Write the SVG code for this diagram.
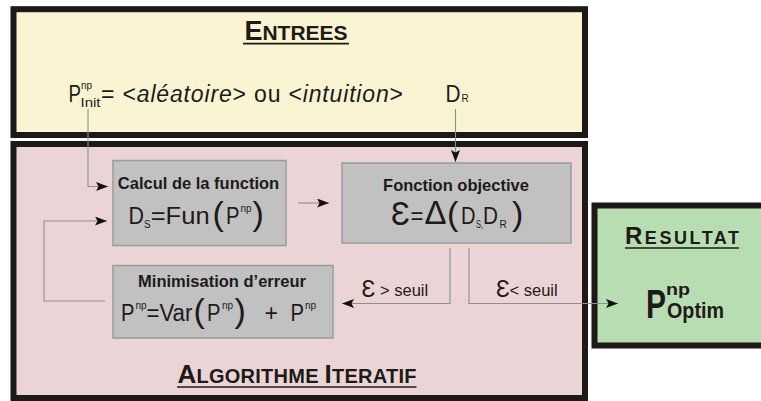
<svg xmlns="http://www.w3.org/2000/svg" width="761" height="401" viewBox="0 0 761 401">
<style>
text{font-family:"Liberation Sans",Arial,"DejaVu Sans",sans-serif;fill:#1e1a18}
.frame{stroke:#1c1917;stroke-width:6}
.gbox{fill:#c1c1c1;stroke:#9b9b9b;stroke-width:1.5}
.b{font-weight:bold;font-size:16.5px}
.t{font-weight:bold}
.f{font-size:23px}
.s{font-size:10px}
.p{font-size:34px}
.lab{font-size:16.5px}
.ul{stroke:#1e1a18;stroke-width:1.6}
.con{fill:none;stroke:#8e8e8e;stroke-width:1.1}
</style>
<defs>
<marker id="ah" markerUnits="userSpaceOnUse" markerWidth="13" markerHeight="10" refX="12" refY="4.5" orient="auto">
<path d="M0,0 L12,4.5 L0,9 L2.5,4.5 z" fill="#111"/>
</marker>
</defs>
<rect width="761" height="401" fill="#ffffff"/>

<g id="entrees">
<rect class="frame" x="13.5" y="9.2" width="571.5" height="125.8" fill="#fbf4d2"/>
<text x="296" y="40" text-anchor="middle" class="t"><tspan font-size="27">E</tspan><tspan font-size="21">NTREES</tspan></text>
<line class="ul" x1="243" y1="43.6" x2="349" y2="43.6"/>
<text x="68.5" y="102" class="f" textLength="12.5" lengthAdjust="spacingAndGlyphs">P</text>
<text x="81" y="89" class="s">np</text>
<text x="80.5" y="107" font-size="13" textLength="20" lengthAdjust="spacingAndGlyphs">Init</text>
<text x="101" y="102" class="f" textLength="302" lengthAdjust="spacing">= &lt;<tspan font-style="italic">aléatoire</tspan>&gt; ou &lt;<tspan font-style="italic">intuition</tspan>&gt;</text>
<text x="445.5" y="102" class="f" textLength="15" lengthAdjust="spacingAndGlyphs">D</text>
<text x="461.5" y="102" class="s">R</text>
</g>

<g id="algorithme">
<rect class="frame" x="13.5" y="144" width="571.5" height="254" fill="#ebd4d6"/>
<text x="297" y="383.3" text-anchor="middle" class="t" textLength="239" lengthAdjust="spacing"><tspan font-size="26">A</tspan><tspan font-size="20">LGORITHME </tspan><tspan font-size="26">I</tspan><tspan font-size="20">TERATIF</tspan></text>
<line class="ul" x1="177" y1="387" x2="416.5" y2="387"/>
</g>

<g id="resultat">
<rect class="frame" x="594.5" y="205.5" width="170" height="140" fill="#b8ddb2"/>
<text x="625" y="244" class="t" textLength="114" lengthAdjust="spacing"><tspan font-size="24">R</tspan><tspan font-size="18">ESULTAT</tspan></text>
<line class="ul" x1="625" y1="248" x2="739" y2="248"/>
<text x="646" y="318" class="t" font-size="40" textLength="20" lengthAdjust="spacingAndGlyphs">P</text>
<text x="666" y="295" class="t" font-size="17" textLength="24" lengthAdjust="spacingAndGlyphs">np</text>
<text x="667" y="318" class="t" font-size="22" textLength="57" lengthAdjust="spacingAndGlyphs">Optim</text>
</g>

<g id="calcul">
<rect class="gbox" x="113" y="160.5" width="173" height="85"/>
<text x="198.5" y="189" text-anchor="middle" class="b">Calcul de la function</text>
<text x="128.5" y="224" class="f" textLength="15.5" lengthAdjust="spacingAndGlyphs">D</text>
<text x="144" y="227.5" class="s" textLength="6.5" lengthAdjust="spacingAndGlyphs">S</text>
<text x="150.7" y="224" class="f" textLength="59" lengthAdjust="spacingAndGlyphs">=Fun</text>
<text x="212.5" y="224.5" class="p">(</text>
<text x="226" y="224" class="f" textLength="13.5" lengthAdjust="spacingAndGlyphs">P</text>
<text x="240.5" y="212" class="s">np</text>
<text x="252.5" y="224.5" class="p">)</text>
</g>

<g id="fonction">
<rect class="gbox" x="342" y="163" width="229" height="80"/>
<text x="456" y="190.7" text-anchor="middle" class="b">Fonction objective</text>
<text x="391" y="225" class="p" textLength="19" lengthAdjust="spacingAndGlyphs">Ɛ</text>
<text x="410.5" y="224" class="f" textLength="13" lengthAdjust="spacingAndGlyphs">=</text>
<text x="424.5" y="224" class="p" textLength="22" lengthAdjust="spacingAndGlyphs">Δ</text>
<text x="447" y="224.5" class="p">(</text>
<text x="461" y="224" class="f" textLength="14.5" lengthAdjust="spacingAndGlyphs">D</text>
<text x="476" y="227.5" class="s" textLength="7" lengthAdjust="spacingAndGlyphs">S,</text>
<text x="483" y="224" class="f" textLength="15" lengthAdjust="spacingAndGlyphs">D</text>
<text x="499.5" y="227.5" class="s">R</text>
<text x="512" y="224.5" class="p">)</text>
</g>

<g id="minimisation">
<rect class="gbox" x="113" y="265.5" width="220" height="72.5"/>
<text x="222" y="287" text-anchor="middle" class="b">Minimisation d’erreur</text>
<text x="121" y="321" class="f" textLength="13.5" lengthAdjust="spacingAndGlyphs">P</text>
<text x="135.5" y="309" class="s">np</text>
<text x="146.4" y="321" class="f" textLength="46" lengthAdjust="spacingAndGlyphs">=Var</text>
<text x="193.5" y="321.5" class="p">(</text>
<text x="207" y="321" class="f" textLength="13.5" lengthAdjust="spacingAndGlyphs">P</text>
<text x="222" y="309" class="s">np</text>
<text x="234.5" y="321.5" class="p">)</text>
<text x="264.5" y="321" class="f">+</text>
<text x="290.5" y="321" class="f" textLength="13.5" lengthAdjust="spacingAndGlyphs">P</text>
<text x="305" y="309" class="s">np</text>
</g>

<g id="connectors">
<path class="con" d="M88,109 V186.5 H108" marker-end="url(#ah)"/>
<path class="con" d="M455.5,109 V162" marker-end="url(#ah)"/>
<path class="con" d="M298,203 H329" marker-end="url(#ah)"/>
<path class="con" d="M450,248 V303.5 H342" marker-end="url(#ah)"/>
<path class="con" d="M469,248 V303.5 H618" marker-end="url(#ah)"/>
<path class="con" d="M105,301 H44 V221 H107" marker-end="url(#ah)"/>
<text x="361.5" y="296.5" class="f">Ɛ</text>
<text x="380" y="296" class="lab">&gt; seuil</text>
<text x="496" y="296.5" class="f">Ɛ</text>
<text x="509.5" y="296" class="lab">&lt; seuil</text>
</g>
</svg>
